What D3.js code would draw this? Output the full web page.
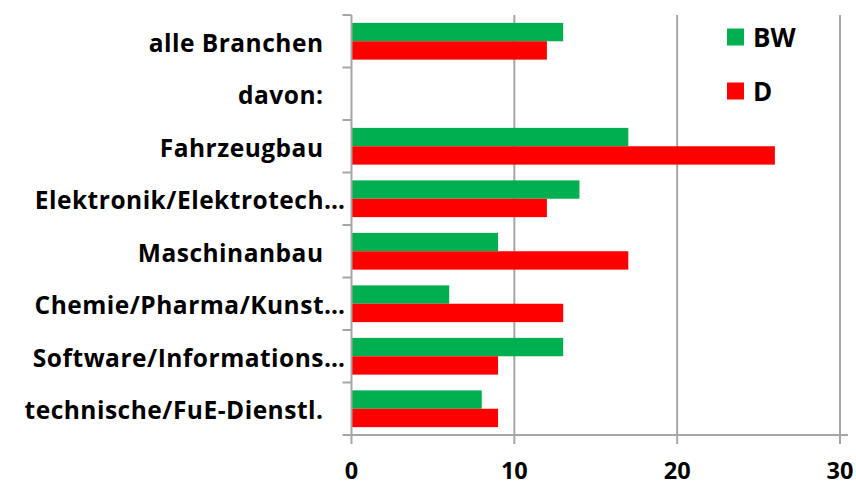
<!DOCTYPE html>
<html><head><meta charset="utf-8">
<script src="https://cdn.jsdelivr.net/npm/d3@7"></script>
<style>body{margin:0;background:#fff}svg{display:block}</style>
</head><body>
<svg id="c" width="856" height="485"></svg>
<script>
const categories = ["alle Branchen","davon:","Fahrzeugbau","Elektronik/Elektrotech…","Maschinanbau","Chemie/Pharma/Kunst…","Software/Informations…","technische/FuE-Dienstl."];
const seriesNames = ["BW","D"];
const bwValues = [13, null, 17, 14, 9, 6, 13, 8];
const dValues  = [12, null, 26, 12, 17, 13, 9, 9];
const xTicks = [0, 10, 20, 30];
const colors = ["#00B050", "#FF0000"];

const svg = d3.select("#c");
const m = {l: 351.5, r: 840, t: 15, b: 435};
const x = d3.scaleLinear().domain([0, 30]).range([m.l, m.r]);
const y = d3.scaleBand().domain(categories).range([m.t, m.b]).paddingInner(0).paddingOuter(0);
const inner = d3.scaleBand().domain(seriesNames).range([0, y.bandwidth()]).paddingOuter(0.4286).paddingInner(0);
const font = "'Open Sans', sans-serif";
const grey = "#a6a6a6";

// gridlines
svg.append("g").selectAll("line").data(xTicks.filter(d => d > 0)).join("line")
  .attr("x1", d => x(d)).attr("x2", d => x(d)).attr("y1", m.t).attr("y2", m.b)
  .attr("stroke", grey).attr("stroke-width", 2);

// bars
const rows = categories.map((c, i) => ({c, vals: [bwValues[i], dValues[i]]}));
const g = svg.append("g").selectAll("g").data(rows).join("g")
  .attr("transform", d => `translate(0,${y(d.c)})`);
g.selectAll("rect").data(d => d.vals.map((v, j) => ({v, s: seriesNames[j], j})).filter(e => e.v != null)).join("rect")
  .attr("x", x(0)).attr("y", e => inner(e.s)).attr("width", e => x(e.v) - x(0)).attr("height", inner.bandwidth())
  .attr("fill", e => colors[e.j]);

// left axis
const ya = svg.append("g").attr("transform", `translate(${m.l},0)`);
ya.append("line").attr("x1", 0).attr("x2", 0).attr("y1", m.t).attr("y2", m.b).attr("stroke", grey).attr("stroke-width", 2);
const bounds = categories.map(c => y(c)).concat([m.b]);
ya.selectAll("line.t").data(bounds).join("line").attr("class", "t")
  .attr("x1", -9).attr("x2", 0).attr("y1", d => d).attr("y2", d => d).attr("stroke", grey).attr("stroke-width", 2);
ya.selectAll("text").data(categories).join("text")
  .attr("x", d => d.endsWith("…") ? -6 : -28)
  .attr("y", d => y(d) + y.bandwidth() / 2 + 10.5)
  .attr("text-anchor", "end").attr("font-family", font).attr("font-weight", "bold").attr("font-size", 24.5)
  .attr("letter-spacing", 0.5)
  .attr("fill", "#000").text(d => d);

// bottom axis
const xa = svg.append("g").attr("transform", `translate(0,${m.b})`);
xa.append("line").attr("x1", m.l - 1).attr("x2", m.r + 8).attr("y1", 0).attr("y2", 0).attr("stroke", grey).attr("stroke-width", 2);
xa.selectAll("line.t").data(xTicks).join("line").attr("class", "t")
  .attr("x1", d => x(d)).attr("x2", d => x(d)).attr("y1", 0).attr("y2", 9).attr("stroke", grey).attr("stroke-width", 2);
xa.selectAll("text").data(xTicks).join("text")
  .attr("x", d => x(d)).attr("y", 43.5).attr("text-anchor", "middle")
  .attr("font-family", font).attr("font-weight", "bold").attr("font-size", 23.5).attr("fill", "#000").text(d => d);

// legend
const lg = svg.append("g").selectAll("g").data(seriesNames).join("g")
  .attr("transform", (d, i) => `translate(727,${28.5 + i * 54})`);
lg.append("rect").attr("width", 17).attr("height", 17).attr("fill", (d, i) => colors[i]);
lg.append("text").attr("x", 26).attr("y", 18)
  .attr("font-family", font).attr("font-weight", "bold").attr("font-size", 26).attr("fill", "#000").text(d => d);
</script>
</body></html>
